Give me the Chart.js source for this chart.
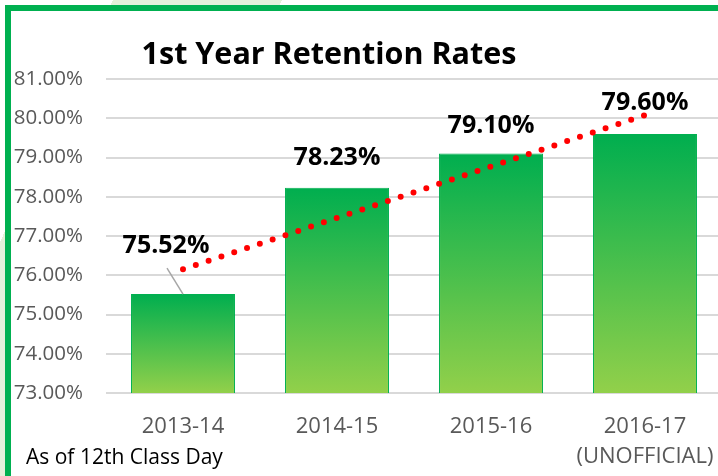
<!DOCTYPE html>
<html>
<head>
<meta charset="utf-8">
<script src="https://cdn.jsdelivr.net/npm/chart.js@4.4.1/dist/chart.umd.min.js"></script>
<style>
  body { margin: 0; width: 718px; height: 476px; overflow: hidden; position: relative;
         background: linear-gradient(115deg, #ffffff 0 12%, #e4f0da 12% 30%, #ffffff 30% 100%); }
  #frame { position: absolute; left: 5px; top: 5px; width: 713px; height: 471px;
           border-left: 6px solid #00b050; border-top: 6px solid #00b050; background: #fff; box-sizing: border-box; }
  #wrap { position: absolute; left: 0; top: 0; width: 722px; height: 476px; }
</style>
</head>
<body>
<div id="frame"></div>
<div id="wrap"><canvas id="retentionChart" width="722" height="476"></canvas></div>
<script>
const categories = ["2013-14", "2014-15", "2015-16", ["2016-17", "(UNOFFICIAL)"]];
const retention = [75.52, 78.23, 79.10, 79.60];
const trendValues = [76.15, 77.46, 78.77, 80.08];
const yMin = 73;
const yMax = 81;
const chartTitle = "1st Year Retention Rates";
const footnote = "As of 12th Class Day";

// label offsets relative to the top centre of each bar
const labelShift = [[-17, 48], [0, 30], [0, 28], [0, 31]];

function barGradient(context) {
    const chart = context.chart;
    const area = chart.chartArea;
    if (!area || context.dataIndex === undefined) return "#00b050";
    const top = chart.scales.y.getPixelForValue(retention[context.dataIndex]);
    const g = chart.ctx.createLinearGradient(0, top, 0, area.bottom);
    g.addColorStop(0, "#00ae4f");
    g.addColorStop(1, "#92d04a");
    return g;
}

const valueLabels = {
    id: "valueLabels",
    afterDatasetDraw(chart, args) {
        if (args.index !== 0) return;
        const ctx = chart.ctx;
        const bars = chart.getDatasetMeta(0).data;
        ctx.save();
        ctx.font = "bold 25px 'Open Sans'";
        ctx.fillStyle = "#000";
        ctx.textAlign = "center";
        ctx.textBaseline = "middle";
        bars.forEach((bar, i) => {
            const x = bar.x + labelShift[i][0];
            const y = bar.y - labelShift[i][1];
            if (i === 0) {
                ctx.strokeStyle = "#a6a6a6";
                ctx.lineWidth = 1.5;
                ctx.beginPath();
                ctx.moveTo(x + 1, y + 22);
                ctx.lineTo(bar.x, bar.y);
                ctx.stroke();
            }
            ctx.fillText(retention[i].toFixed(2) + "%", x, y);
        });
        ctx.restore();
    },
    afterDraw(chart) {
        const ctx = chart.ctx;
        ctx.save();
        ctx.fillStyle = "#000";
        ctx.textBaseline = "middle";
        ctx.textAlign = "center";
        ctx.font = "bold 30.5px 'Open Sans'";
        ctx.fillText(chartTitle, 329, 55);
        ctx.textAlign = "left";
        ctx.font = "21px 'Open Sans'";
        ctx.fillText(footnote, 26, 458);
        ctx.restore();
    }
};

new Chart(document.getElementById("retentionChart"), {
    type: "bar",
    data: {
        labels: categories,
        datasets: [
            {
                type: "bar",
                data: retention,
                backgroundColor: barGradient,
                borderColor: "#00b050",
                borderWidth: 1,
                barPercentage: 0.675,
                categoryPercentage: 1,
                order: 1
            },
            {
                type: "line",
                data: trendValues,
                borderColor: "#ff0000",
                borderWidth: 6,
                borderDash: [0, 13.5],
                borderCapStyle: "round",
                pointRadius: 0,
                fill: false,
                tension: 0,
                order: 0
            }
        ]
    },
    options: {
        responsive: false,
        animation: false,
        layout: { padding: { top: 79, left: 12, right: 0, bottom: 3 } },
        plugins: { legend: { display: false }, tooltip: { enabled: false } },
        scales: {
            x: {
                grid: { display: false },
                border: { display: false },
                ticks: { color: "#595959", font: { family: "'Open Sans'", size: 22, lineHeight: 1.4 }, padding: 10, maxRotation: 0 },
                afterFit: s => { s.height = 80; s.paddingLeft = 0; s.paddingRight = 0; }
            },
            y: {
                min: yMin,
                max: yMax,
                grid: { color: "#d9d9d9", lineWidth: 2, drawTicks: false },
                border: { display: false },
                ticks: {
                    stepSize: 1,
                    color: "#595959",
                    font: { family: "'Open Sans'", size: 20.5 },
                    padding: 23,
                    callback: v => v.toFixed(2) + "%"
                },
                afterFit: s => { s.width = 94; }
            }
        }
    },
    plugins: [valueLabels]
});
</script>
</body>
</html>
